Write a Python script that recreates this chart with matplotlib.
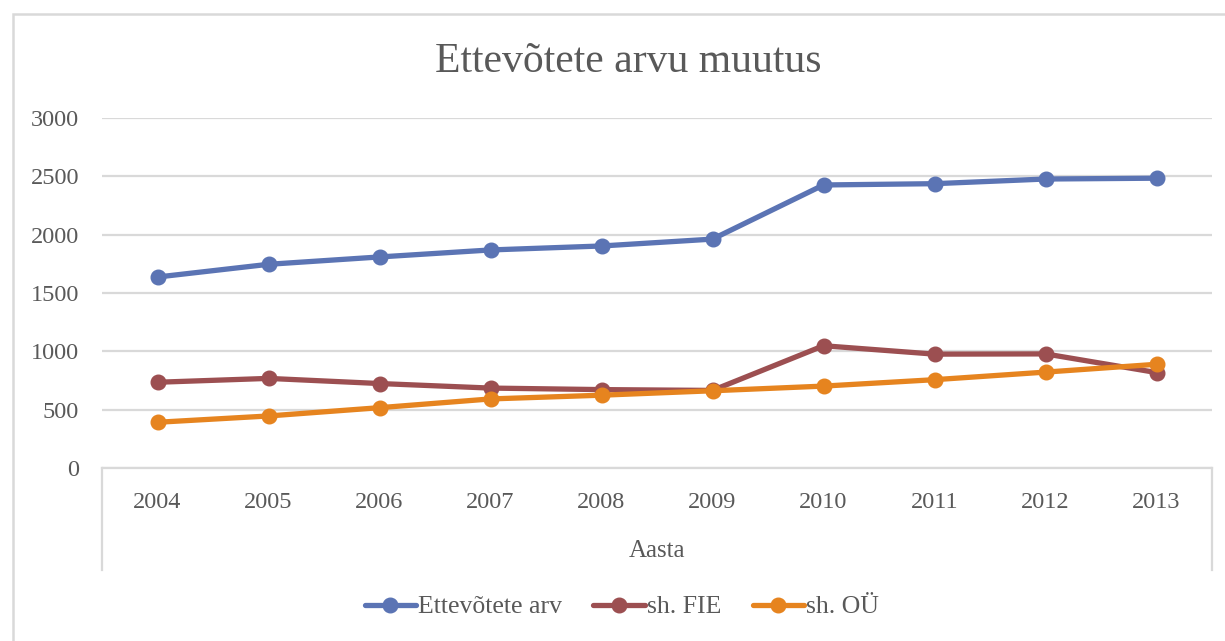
import matplotlib.pyplot as plt
from matplotlib.patches import Rectangle
from matplotlib.lines import Line2D

years = ["2004", "2005", "2006", "2007", "2008", "2009", "2010", "2011", "2012", "2013"]
ettevotted = [1637, 1746, 1809, 1869, 1903, 1962, 2426, 2437, 2477, 2484]
fie = [735, 768, 724, 685, 672, 665, 1048, 976, 978, 818]
ou = [392, 446, 517, 592, 624, 662, 702, 757, 822, 889]
yticks = [0, 500, 1000, 1500, 2000, 2500, 3000]

txt = "#595959"
grid = "#d9d9d9"
plt.rcParams["font.family"] = ["Liberation Serif", "DejaVu Serif"]

W, H = 1225, 641
fig = plt.figure(figsize=(W / 100, H / 100), dpi=100)
ax = fig.add_axes([102 / W, (H - 468) / H, 1110 / W, 350 / H])

x = list(range(len(years)))
series = [(ettevotted, "#5b74b4", "Ettevõtete arv"),
          (fie, "#9c4f51", "sh. FIE"),
          (ou, "#e6841f", "sh. OÜ")]
for vals, c, lab in series:
    ax.plot(x, vals, color=c, lw=3.8, marker="o", ms=10.5, label=lab,
            solid_capstyle="round", clip_on=False)

ax.set_xlim(-0.5, len(years) - 0.5)
ax.set_ylim(0, 3000)
ax.set_yticks(yticks)
ax.set_xticks(x)
ax.set_xticklabels(years)
ax.grid(axis="y", color=grid, lw=1.6)
ax.set_axisbelow(True)
for s in ["top", "right", "left"]:
    ax.spines[s].set_visible(False)
ax.spines["bottom"].set_color(grid)
ax.spines["bottom"].set_linewidth(1.6)
ax.tick_params(length=0, labelsize=17.5, labelcolor=txt)
ax.tick_params(axis="y", pad=16.5)
ax.tick_params(axis="x", pad=17)

# vertical edge lines of category axis area
for xv in [-0.5, len(years) - 0.5]:
    ax.add_line(Line2D([xv, xv], [0, -875], color=grid, lw=1.6, clip_on=False))

ax.set_xlabel("Aasta", fontsize=18, color=txt, labelpad=20)

fig.text(628 / W, 1 - 62 / H, "Ettevõtete arvu muutus", ha="center", va="center",
         fontsize=30, color=txt)

# outer chart frame
fig.add_artist(Rectangle((13 / W, -0.05), 1.2, 1 - 14 / H + 0.05, transform=fig.transFigure,
                         fill=False, edgecolor=grid, lw=1.8))

fig.legend(loc="center", bbox_to_anchor=(622 / W, 1 - 607 / H), ncol=3, frameon=False,
           fontsize=18.5, labelcolor=txt, handlelength=2.0, handletextpad=0.1,
           columnspacing=1.2)

fig.savefig("out.png", dpi=100)
